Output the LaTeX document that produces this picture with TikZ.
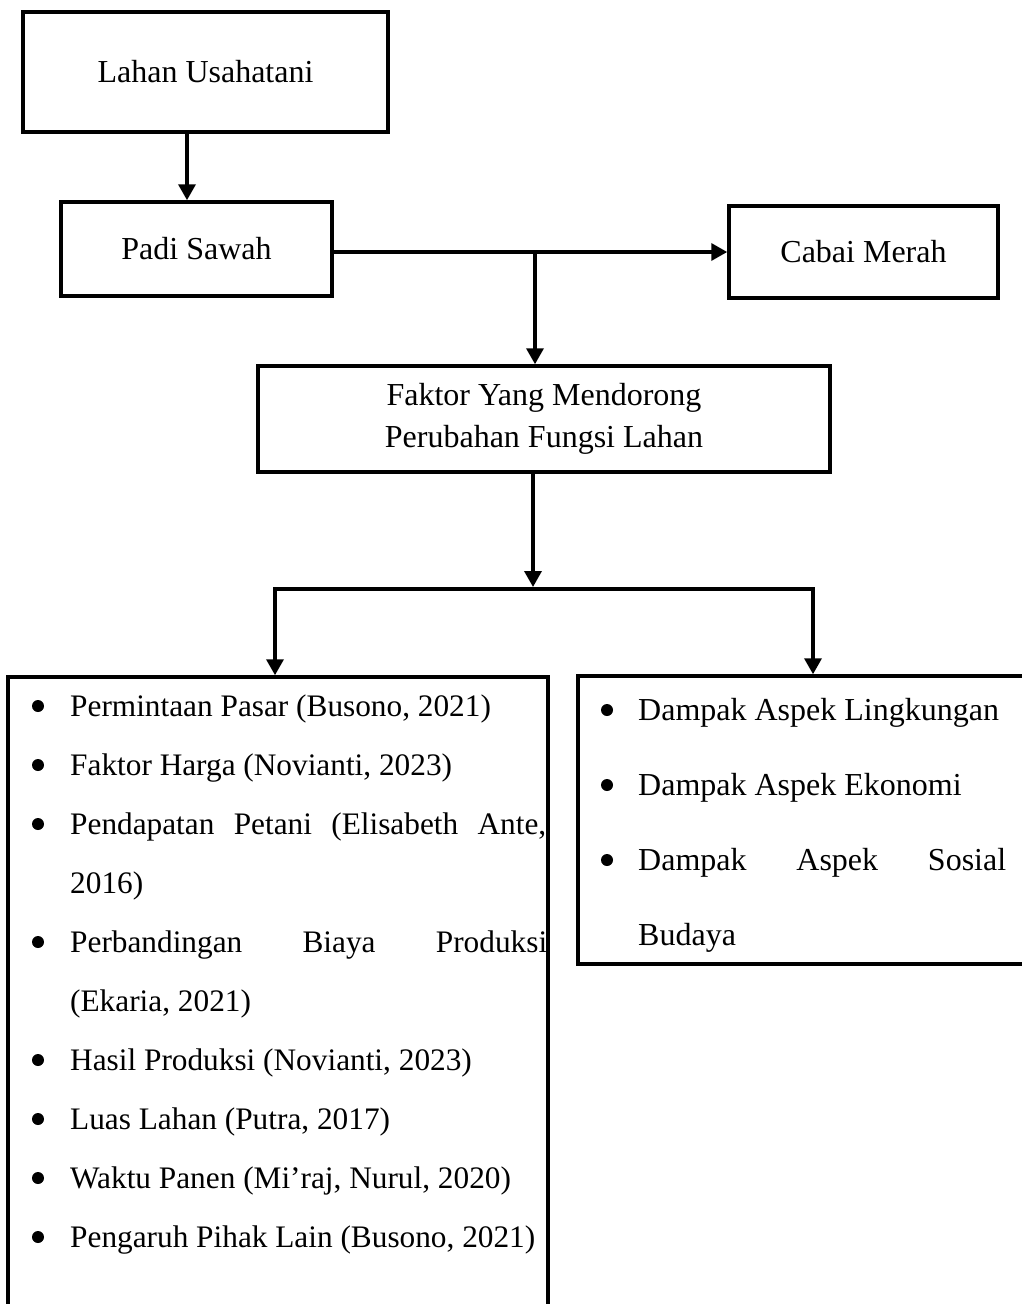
\documentclass[tikz,border=0pt]{standalone}
\usepackage{fontspec}
\setmainfont{Liberation Serif}
\usetikzlibrary{arrows.meta}
\begin{document}
\begin{tikzpicture}[x=1pt,y=-1pt,
  box/.style={draw, line width=3.5pt, inner sep=0pt, font=\fontsize{32}{42}\selectfont, align=center},
  tip/.tip={Triangle[length=16pt,width=17pt]},
  conn/.style={line width=3.5pt, -tip},
  itemtext/.style={anchor=base west, inner sep=0pt, font=\fontsize{31.3}{40}\selectfont},
  itemtextr/.style={anchor=base west, inner sep=0pt, font=\fontsize{32}{40}\selectfont},
  dot/.style={circle, fill, inner sep=0pt, minimum size=12pt}]
\useasboundingbox (0,0) rectangle (1022,1304);
\clip (0,0) rectangle (1022,1304);
\fill[white] (0,0) rectangle (1022,1304);

% boxes
\node[box, minimum width=365pt, minimum height=120pt] (lahan) at (205.5,72) {Lahan Usahatani};
\node[box, minimum width=271pt, minimum height=94pt] (padi) at (196.5,249) {Padi Sawah};
\node[box, minimum width=269pt, minimum height=92pt] (cabai) at (863.5,252) {Cabai Merah};
\node[box, minimum width=572pt, minimum height=106pt] (faktor) at (544,419) {Faktor Yang Mendorong\\Perubahan Fungsi Lahan};
\node[box, minimum width=540pt, minimum height=723pt] (leftbox) at (278,1038.5) {};
\node[box, minimum width=462pt, minimum height=288pt] (rightbox) at (809,820) {};

% connectors
\coordinate (c1) at (187,0);
\draw[conn] (lahan.south -| c1) -- (padi.north -| c1);
\draw[conn] (padi.east |- cabai.west) -- (cabai.west);
\coordinate (j1) at (535,252);
\draw[conn] (j1) -- (j1 |- faktor.north);
\coordinate (j2) at (533,587);
\draw[conn] (faktor.south -| j2) -- (j2);
\coordinate (j3) at (275,589);
\coordinate (j4) at (813,589);
\draw[line width=3.5pt, tip-tip]
  (leftbox.north -| j3) -- (j3) -- (j4) -- (rightbox.north -| j4);

% left list
\node[dot] (lb1) at (38,706) {};
\node[itemtext] (lt1) at (70,716) {Permintaan Pasar (Busono, 2021)};
\node[dot] (lb2) at (38,765) {};
\node[itemtext] (lt2) at (70,775) {Faktor Harga (Novianti, 2023)};
\node[dot] (lb3) at (38,824) {};
\node[itemtext] (lt3) at (70,834) {\makebox[476pt][l]{Pendapatan\hfill Petani\hfill (Elisabeth\hfill Ante,}};
\node[itemtext] (lt3b) at (70,893) {2016)};
\node[dot] (lb4) at (38,942) {};
\node[itemtext] (lt4) at (70,952) {\makebox[477pt][l]{Perbandingan\hfill Biaya\hfill Produksi}};
\node[itemtext] (lt4b) at (70,1011) {(Ekaria, 2021)};
\node[dot] (lb5) at (38,1060) {};
\node[itemtext] (lt5) at (70,1070) {Hasil Produksi (Novianti, 2023)};
\node[dot] (lb6) at (38,1119) {};
\node[itemtext] (lt6) at (70,1129) {Luas Lahan (Putra, 2017)};
\node[dot] (lb7) at (38,1178) {};
\node[itemtext] (lt7) at (70,1188) {Waktu Panen (Mi’raj, Nurul, 2020)};
\node[dot] (lb8) at (38,1237) {};
\node[itemtext] (lt8) at (70,1247) {Pengaruh Pihak Lain (Busono, 2021)};

% right list
\node[dot] (rb1) at (607,710) {};
\node[itemtextr] (rt1) at (638,720) {Dampak Aspek Lingkungan};
\node[dot] (rb2) at (607,785) {};
\node[itemtextr] (rt2) at (638,795) {Dampak Aspek Ekonomi};
\node[dot] (rb3) at (607,860) {};
\node[itemtextr] (rt3) at (638,870) {\makebox[368pt][l]{Dampak\hfill Aspek\hfill Sosial}};
\node[itemtextr] (rt3b) at (638,945) {Budaya};
\end{tikzpicture}
\end{document}
